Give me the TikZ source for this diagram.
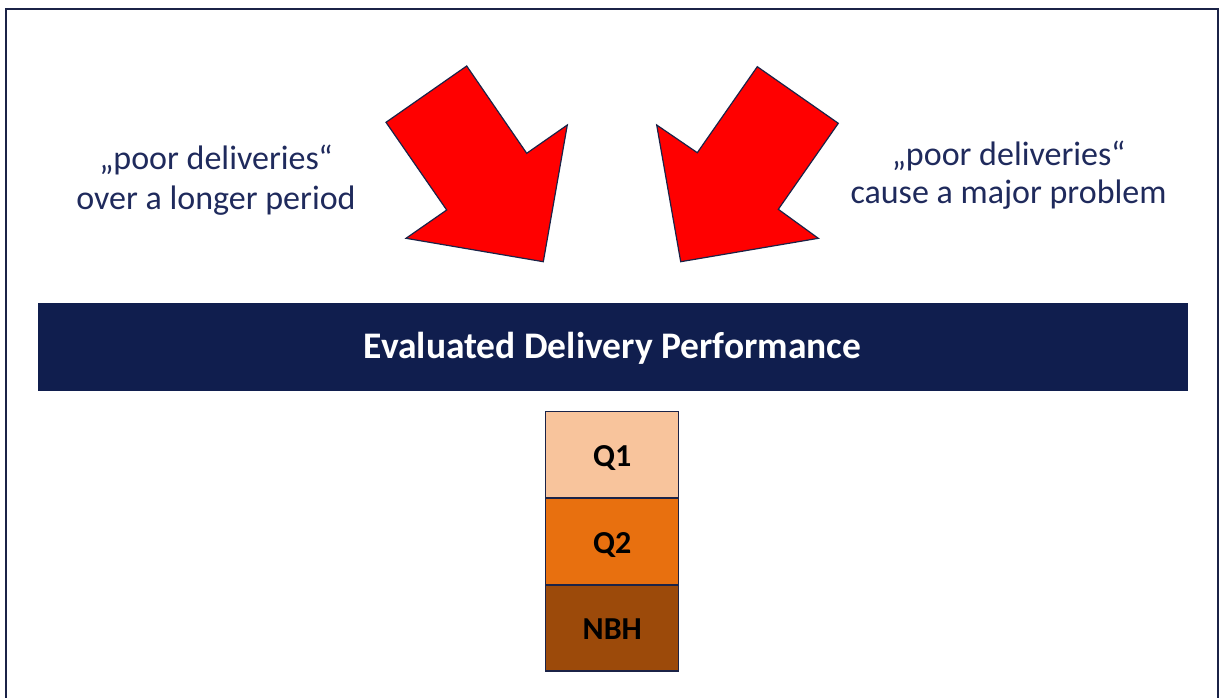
\documentclass[tikz,border=0pt]{standalone}
\usepackage{fontspec}
\setmainfont{Carlito}
\definecolor{navy}{HTML}{101E4E}
\definecolor{frame}{HTML}{1B2347}
\definecolor{txtnavy}{HTML}{1F2A5C}
\definecolor{qone}{HTML}{F8C49C}
\definecolor{qtwo}{HTML}{E8700F}
\definecolor{nbh}{HTML}{9C4A0A}
\tikzset{
  bigarrow/.style={fill=red, draw=frame, line width=1.2pt, line join=miter},
  sidetext/.style={text=txtnavy, align=center},
  stackbox/.style={draw=frame, line width=1.2pt, minimum width=133pt, minimum height=85.6pt, inner sep=0pt, text height=23.6pt, text depth=0pt, font=\bfseries\fontsize{32}{36}\selectfont, text=black},
}
\begin{document}
\begin{tikzpicture}[x=1pt,y=-1pt]
\useasboundingbox (0,0) rectangle (1219,697);
% frame
\draw[frame, line width=2.5pt] (6,700) -- (6,9) -- (1218,9) -- (1218,700);
% arrows
\draw[bigarrow] (466.7,66) -- (386,122.3) -- (446.7,210) -- (406,238.3) -- (543.3,261.7) -- (567.3,125) -- (526.7,153.3) -- cycle;
\draw[bigarrow] (757.3,66.7) -- (838.3,123.3) -- (778.3,209.3) -- (818.3,238.3) -- (680.7,261.7) -- (656.7,125) -- (697.3,152.7) -- cycle;
% texts
\node[sidetext, font=\fontsize{34}{40}\selectfont] (lefttext) at (216,180) {„poor deliveries“\\over a longer period};
\node[sidetext, font=\fontsize{34}{38}\selectfont] (righttext) at (1008.5,175) {„poor deliveries“\\cause a major problem};
% bar
\node[fill=navy, draw=navy, minimum width=1149pt, minimum height=86.7pt, inner sep=0pt, text height=23.2pt, text depth=0pt, text=white, font=\bfseries\fontsize{37.5}{42}\selectfont] (bar) at (612.5,346.7) {Evaluated Delivery Performance};
% stack
\node[stackbox, fill=qone] (q1) at (612.3,454.5) {Q1};
\node[stackbox, fill=qtwo, anchor=north] (q2) at (q1.south) {Q2};
\node[stackbox, fill=nbh, anchor=north] (nb) at (q2.south) {NBH};
\end{tikzpicture}
\end{document}
